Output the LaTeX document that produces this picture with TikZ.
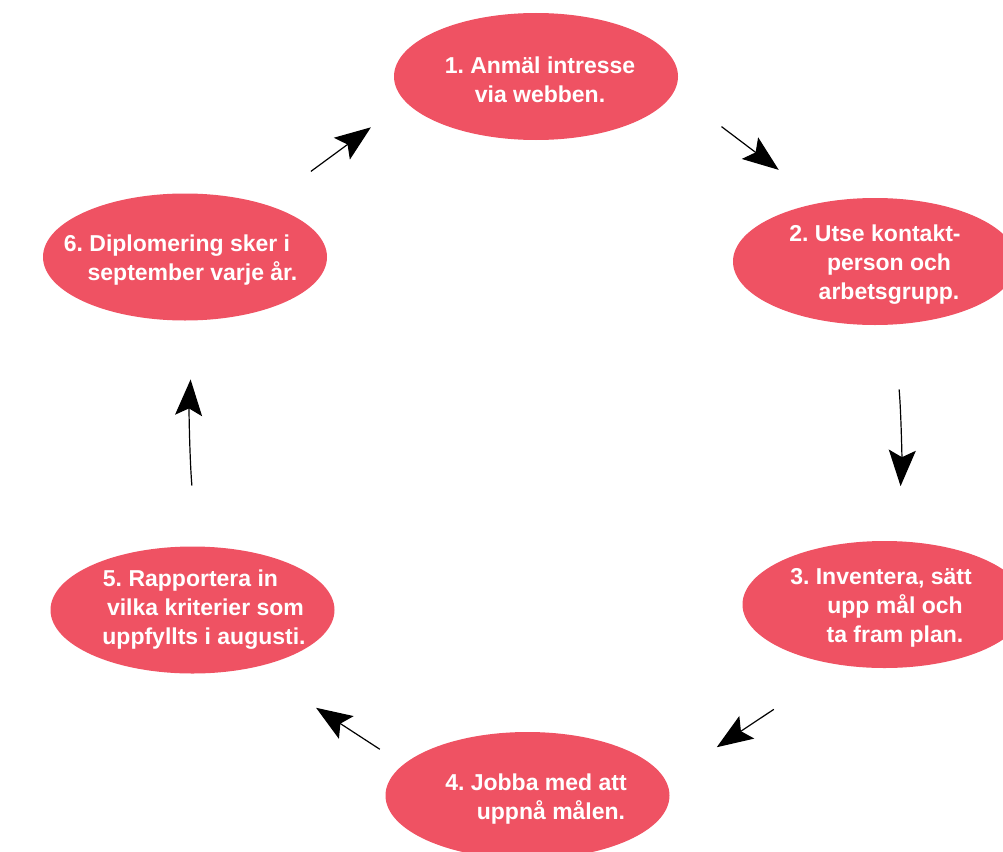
\documentclass[tikz,border=0pt]{standalone}
\usepackage{fontspec}
\setmainfont{Liberation Sans}
\usetikzlibrary{shapes.geometric,arrows.meta}
\definecolor{stagered}{RGB}{239,82,99}
\newcommand{\topstrut}{\rule{0pt}{23pt}}
\frenchspacing
\begin{document}
\begin{tikzpicture}[x=1pt,y=-1pt,
  stage/.style={ellipse,fill=stagered,text=white,align=center,
    font=\bfseries\fontsize{23}{29}\selectfont,
    inner xsep=-60pt,inner ysep=-30pt,minimum width=284pt,minimum height=127pt},
  flow/.style={-{Stealth[length=36pt,width=27pt,inset=7pt]},line width=1.2pt}]
\useasboundingbox (0,0) rectangle (1003,851);
% the six steps
\node[stage] (s1) at (536,76.5) {\topstrut\hspace*{8pt}1. Anmäl intresse\\\hspace*{8pt}via webben.};
\node[stage] (s2) at (875,261.5) {\topstrut2. Utse kontakt-\\\hspace*{28pt}person och\\\hspace*{28pt}arbetsgrupp.};
\node[stage] (s3) at (884.5,604.5) {\topstrut3. Inventera, sätt\hspace*{7pt}\\\hspace*{21pt}upp mål och\\\hspace*{21pt}ta fram plan.};
\node[stage] (s4) at (527.5,795.5) {\topstrut\hspace*{17pt}4. Jobba med att\\\hspace*{47pt}uppnå målen.};
\node[stage] (s5) at (192.5,610) {5. Rapportera in\hspace*{4pt}\\\hspace*{26pt}vilka kriterier som\\\hspace*{23pt}uppfyllts i augusti.};
\node[stage] (s6) at (185,257) {\topstrut6. Diplomering sker i\hspace*{16pt}\\\hspace*{15pt}september varje år.};
% arrows between them
\draw[flow,shorten <=59pt,shorten >=54pt] (s1.-6) -- (s2.132);
\draw[flow,shorten <=65pt,shorten >=55pt] (s2.-74.5) to[bend left=4] (s3.78);
\draw[flow,shorten <=80pt,shorten >=61pt] (s3.-126) -- (s4.6);
\draw[flow,shorten <=28pt,shorten >=74pt] (s4.166) -- (s5.-43);
\draw[flow,shorten <=61pt,shorten >=59pt] (s5.86) to[bend left=4] (s6.-82);
\draw[flow,shorten <=56pt,shorten >=43pt] (s6.33) -- (s1.191);
\end{tikzpicture}
\end{document}
